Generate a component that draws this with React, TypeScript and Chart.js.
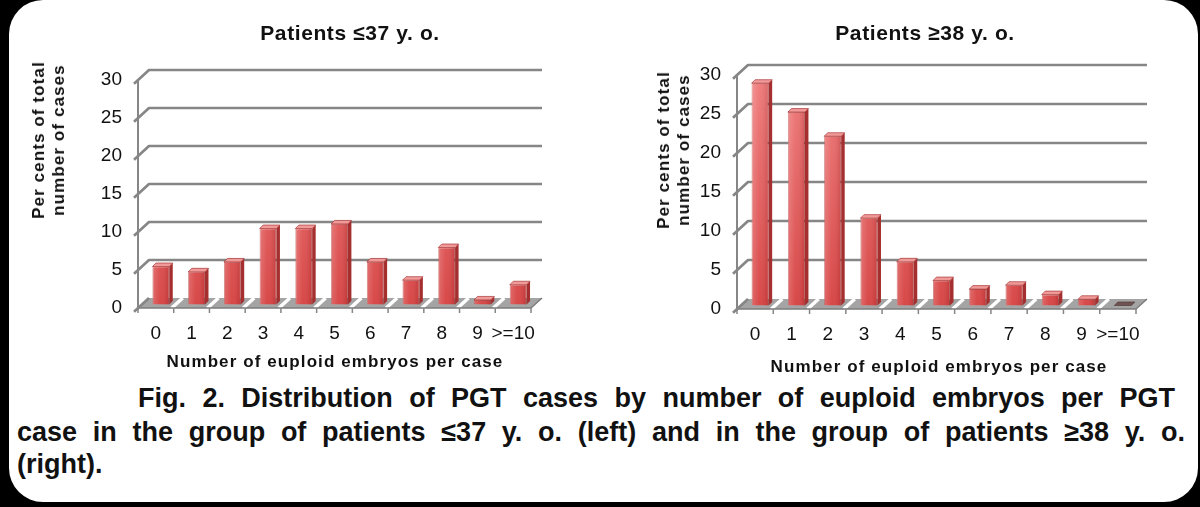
import React, { useEffect, useRef } from "react";
import { Chart, registerables } from "chart.js";

Chart.register(...registerables);

// ---------- data ----------
const CATEGORIES = ["0", "1", "2", "3", "4", "5", "6", "7", "8", "9", ">=10"];
const YOUNGER_PCT = [5.0, 4.3, 5.6, 10.0, 10.0, 10.6, 5.6, 3.2, 7.5, 0.6, 2.6];
const OLDER_PCT = [28.5, 24.8, 21.7, 11.2, 5.6, 3.2, 2.1, 2.6, 1.4, 0.8, 0];
const Y_MIN = 0;
const Y_MAX = 30;
const Y_STEP = 5;

const TITLE_LEFT = "Patients \u226437 y. o.";
const TITLE_RIGHT = "Patients \u226538 y. o.";
const Y_TITLE = ["Per cents of total", "number of cases"];
const X_TITLE = "Number of euploid embryos per case";
const CAPTION = [
  "Fig. 2. Distribution of PGT cases by number of euploid embryos per PGT",
  "case in the group of patients \u226437 y. o. (left) and in the group of patients \u226538 y. o.",
  "(right).",
];

const FONT = '"Liberation Sans", Arial, Helvetica, sans-serif';
const GRID = "#868686";

// ---------- 3D look plugin ----------
const depthPlugin = {
  id: "depth3d",
  beforeDatasetsDraw(chart: any, _args: any, opts: any) {
    const { ctx, chartArea: a, scales } = chart;
    const x = scales.x;
    const y = scales.y;
    const dx = opts.dx;
    const dy = opts.dy;
    const ext = 4;
    ctx.save();
    ctx.lineCap = "butt";
    ctx.lineJoin = "round";

    // category boundaries
    const n = x.ticks.length;
    const bounds: number[] = [a.left];
    for (let i = 1; i < n; i++) {
      bounds.push((x.getPixelForValue(i - 1) + x.getPixelForValue(i)) / 2);
    }
    bounds.push(a.right);

    // floor slab
    ctx.beginPath();
    ctx.moveTo(a.left, a.bottom);
    ctx.lineTo(a.right, a.bottom);
    ctx.lineTo(a.right + dx, a.bottom + dy);
    ctx.lineTo(a.left + dx, a.bottom + dy);
    ctx.closePath();
    ctx.fillStyle = "#a4a4a4";
    ctx.fill();
    ctx.strokeStyle = "#ffffff";
    ctx.lineWidth = 3.5;
    for (let i = 1; i < bounds.length - 1; i++) {
      ctx.beginPath();
      ctx.moveTo(bounds[i] - 2, a.bottom);
      ctx.lineTo(bounds[i] - 2 + dx, a.bottom + dy);
      ctx.stroke();
    }
    ctx.strokeStyle = "#7c7c7c";
    ctx.lineWidth = 1.5;
    ctx.beginPath();
    ctx.moveTo(a.left, a.bottom);
    ctx.lineTo(a.right, a.bottom);
    ctx.lineTo(a.right + dx, a.bottom + dy);
    ctx.stroke();

    // category tick marks under floor
    ctx.strokeStyle = GRID;
    ctx.lineWidth = 1.5;
    for (const b of bounds) {
      ctx.beginPath();
      ctx.moveTo(b, a.bottom);
      ctx.lineTo(b, a.bottom + 5);
      ctx.stroke();
    }

    // back-wall gridlines with diagonal ticks
    ctx.strokeStyle = GRID;
    ctx.lineWidth = 2.7;
    for (const t of y.ticks) {
      const py = y.getPixelForValue(t.value);
      ctx.beginPath();
      ctx.moveTo(a.left - ext, py - (dy * ext) / dx);
      ctx.lineTo(a.left + dx, py + dy);
      if (t.value > Y_MIN) ctx.lineTo(a.right + dx, py + dy);
      ctx.stroke();
    }
    // front vertical axis
    ctx.lineWidth = 2;
    ctx.beginPath();
    ctx.moveTo(a.left, y.getPixelForValue(Y_MAX));
    ctx.lineTo(a.left, a.bottom + 2);
    ctx.stroke();
    ctx.restore();

    // bars are drawn a little inside the depth
    ctx.save();
    ctx.translate(opts.bx, opts.by);
  },
  afterDatasetsDraw(chart: any, _args: any, opts: any) {
    const { ctx } = chart;
    const meta = chart.getDatasetMeta(0);
    const bd = opts.bd;
    for (const el of meta.data) {
      const p = el.getProps(["x", "y", "base", "width"], true);
      const xl = p.x - p.width / 2;
      const xr = p.x + p.width / 2;
      const top = Math.min(p.y, p.base);
      const base = Math.max(p.y, p.base);
      const h = base - top;
      if (h > 0.5) {
        const g = ctx.createLinearGradient(xl, 0, xr, 0);
        g.addColorStop(0, "rgba(255,255,255,0.22)");
        g.addColorStop(0.45, "rgba(255,255,255,0.05)");
        g.addColorStop(1, "rgba(90,0,0,0.18)");
        ctx.fillStyle = g;
        ctx.fillRect(xl, top, xr - xl, h);
        ctx.beginPath();
        ctx.moveTo(xr, top);
        ctx.lineTo(xr + bd, top - bd);
        ctx.lineTo(xr + bd, base - bd);
        ctx.lineTo(xr, base);
        ctx.closePath();
        ctx.fillStyle = "#a52f2f";
        ctx.fill();
      }
      ctx.beginPath();
      ctx.moveTo(xl, top);
      ctx.lineTo(xr, top);
      ctx.lineTo(xr + bd, top - bd);
      ctx.lineTo(xl + bd, top - bd);
      ctx.closePath();
      ctx.fillStyle = h > 0.5 ? "#f19a9a" : "#6f5353";
      ctx.fill();
      ctx.strokeStyle = h > 0.5 ? "rgba(160,40,40,0.8)" : "#5a4444";
      ctx.lineWidth = 0.8;
      ctx.stroke();
    }
    ctx.restore();
  },
};

type BarProps = {
  values: number[];
  left: number;
  padding: { left: number; right: number; top: number; bottom: number };
};

function Bar3D({ values, left, padding }: BarProps) {
  const ref = useRef<HTMLCanvasElement>(null);
  useEffect(() => {
    const chart = new Chart(ref.current as HTMLCanvasElement, {
      type: "bar",
      data: {
        labels: CATEGORIES,
        datasets: [
          {
            data: values,
            backgroundColor: (c: any) => {
              const a = c.chart.chartArea;
              if (!a) return "#e05555";
              const g = c.chart.ctx.createLinearGradient(0, a.top, 0, a.bottom);
              g.addColorStop(0, "#f07a7a");
              g.addColorStop(1, "#d63f3f");
              return g;
            },
            borderColor: "rgba(170,45,45,0.8)",
            borderWidth: 0.8,
            barPercentage: 0.47,
            categoryPercentage: 1,
            clip: false as any,
          },
        ],
      },
      options: {
        responsive: false,
        animation: false,
        events: [],
        layout: { padding },
        plugins: {
          legend: { display: false },
          tooltip: { enabled: false },
          title: { display: false },
          depth3d: { dx: 11, dy: -10, bx: 5, by: -3.5, bd: 3.5 },
        } as any,
        scales: {
          x: {
            grid: { display: false, drawTicks: false },
            border: { display: false },
            ticks: {
              autoSkip: false,
              maxRotation: 0,
              minRotation: 0,
              padding: 14,
              color: "#111",
              font: { family: FONT, size: 19 },
            },
            afterFit: (s: any) => {
              s.height = 40;
            },
          },
          y: {
            min: Y_MIN,
            max: Y_MAX,
            grid: { display: false, drawTicks: false },
            border: { display: false },
            ticks: {
              stepSize: Y_STEP,
              padding: 16,
              color: "#111",
              font: { family: FONT, size: 19 },
            },
            afterFit: (s: any) => {
              s.width = 40;
            },
          },
        },
      },
      plugins: [depthPlugin as any],
    });
    return () => chart.destroy();
  }, []);
  return (
    <canvas
      ref={ref}
      width={600}
      height={380}
      style={{ position: "absolute", left, top: 0, width: 600, height: 380 }}
    />
  );
}

function Centered({ x, y, style, children }: any) {
  return (
    <div
      style={{
        position: "absolute",
        left: x,
        top: y,
        transform: "translate(-50%, -50%)",
        whiteSpace: "nowrap",
        fontFamily: FONT,
        fontWeight: "bold",
        color: "#111",
        ...style,
      }}
    >
      {children}
    </div>
  );
}

function YTitle({ x, y }: { x: number; y: number }) {
  return (
    <div
      style={{
        position: "absolute",
        left: x,
        top: y,
        transform: "translate(-50%, -50%) rotate(-90deg)",
        whiteSpace: "nowrap",
        fontFamily: FONT,
        fontWeight: "bold",
        fontSize: 17,
        letterSpacing: 1.1,
        lineHeight: "20px",
        textAlign: "center",
        color: "#111",
      }}
    >
      {Y_TITLE.map((t) => (
        <div key={t}>{t}</div>
      ))}
    </div>
  );
}

export default function App() {
  const capStyle: React.CSSProperties = {
    position: "absolute",
    fontFamily: FONT,
    fontWeight: "bold",
    fontSize: 27,
    lineHeight: "33px",
    height: 33,
    color: "#111",
    textAlign: "justify",
    textAlignLast: "justify" as any,
  };
  return (
    <div
      style={{
        position: "fixed",
        left: 0,
        top: 0,
        width: 1200,
        height: 507,
        background: "#000",
        overflow: "hidden",
      }}
    >
      <div
        style={{
          position: "absolute",
          left: 9,
          top: 0,
          width: 1189,
          height: 502,
          background: "#fff",
          borderRadius: 34,
        }}
      />
      <Bar3D values={YOUNGER_PCT} left={0} padding={{ left: 98, right: 69, top: 80, bottom: 32 }} />
      <Bar3D values={OLDER_PCT} left={600} padding={{ left: 97, right: 64, top: 75, bottom: 31 }} />

      <Centered x={350} y={33} style={{ fontSize: 21, letterSpacing: 0.6 }}>
        {TITLE_LEFT}
      </Centered>
      <Centered x={925} y={33} style={{ fontSize: 21, letterSpacing: 0.6 }}>
        {TITLE_RIGHT}
      </Centered>
      <YTitle x={49} y={140} />
      <YTitle x={674} y={150} />
      <Centered x={335} y={362} style={{ fontSize: 17, letterSpacing: 1.1 }}>
        {X_TITLE}
      </Centered>
      <Centered x={939} y={367} style={{ fontSize: 17, letterSpacing: 1.1 }}>
        {X_TITLE}
      </Centered>

      <div style={{ ...capStyle, left: 138, width: 1037, top: 382 }}>{CAPTION[0]}</div>
      <div style={{ ...capStyle, left: 17, width: 1168, top: 416 }}>{CAPTION[1]}</div>
      <div style={{ ...capStyle, left: 17, top: 448, textAlign: "left", textAlignLast: "left" as any }}>
        {CAPTION[2]}
      </div>
    </div>
  );
}
